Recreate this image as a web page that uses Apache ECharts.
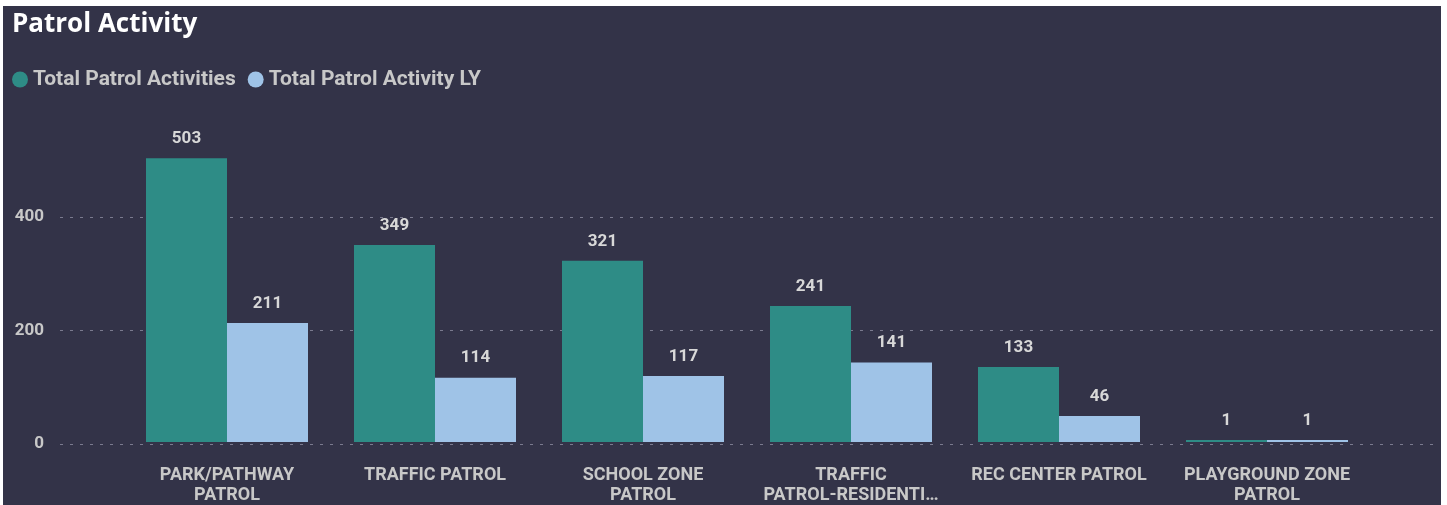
<!DOCTYPE html>
<html>
<head>
<meta charset="utf-8">
<script src="https://cdn.jsdelivr.net/npm/echarts@6/dist/echarts.min.js"></script>
<style>
  html, body { margin: 0; padding: 0; background: #ffffff; }
  #chart { position: absolute; left: 3px; top: 6px; width: 1438px; height: 499px; background: #333348; }
</style>
</head>
<body>
<div id="chart"></div>
<script>
const categories = ['PARK/PATHWAY PATROL', 'TRAFFIC PATROL', 'SCHOOL ZONE PATROL', 'TRAFFIC PATROL-RESIDENTIAL', 'REC CENTER PATROL', 'PLAYGROUND ZONE PATROL'];
const categoryLabels = ['PARK/PATHWAY\nPATROL', 'TRAFFIC PATROL', 'SCHOOL ZONE\nPATROL', 'TRAFFIC\nPATROL-RESIDENTI…', 'REC CENTER PATROL', 'PLAYGROUND ZONE\nPATROL'];
const totalPatrolActivities = [503, 349, 321, 241, 133, 1];
const totalPatrolActivityLY = [211, 114, 117, 141, 46, 1];
const seriesNames = ['Total Patrol Activities', 'Total Patrol Activity LY'];
const yTicks = [0, 200, 400];

const chart = echarts.init(document.getElementById('chart'), null, { renderer: 'canvas' });
const labelFont = 'Roboto, "DejaVu Sans", sans-serif';
const option = {
  backgroundColor: '#333348',
  animation: false,
  title: {
    text: 'Patrol Activity',
    left: 4, top: 1,
    textStyle: { color: '#ffffff', fontSize: 26, fontWeight: 'bold', fontFamily: '"Open Sans", "Noto Sans", sans-serif' }
  },
  legend: {
    left: 9, top: 63, padding: 0, itemGap: 12,
    icon: 'circle', itemWidth: 16, itemHeight: 16,
    data: seriesNames,
    textStyle: { color: '#c8c8c8', fontSize: 21, fontFamily: labelFont, fontWeight: 'bold' }
  },
  grid: [
    { left: 57, right: 8, top: 120, bottom: 61 },
    { left: 120, right: 70, top: 120, bottom: 61 }
  ],
  xAxis: [
    { type: 'category', gridIndex: 0, show: false, data: [''] },
    {
      type: 'category', gridIndex: 1, data: categories,
      axisLine: { show: false }, axisTick: { show: false },
      axisLabel: {
        color: '#c8c8c8', fontSize: 18, fontWeight: 'bold', fontFamily: labelFont,
        margin: 23, lineHeight: 20, interval: 0,
        formatter: (v, i) => categoryLabels[i]
      }
    }
  ],
  yAxis: [
    {
      type: 'value', gridIndex: 0, min: 0, max: 560, interval: 200,
      axisLine: { show: false }, axisTick: { show: false },
      axisLabel: { color: '#c8c8c8', fontSize: 17, fontWeight: 'bold', fontFamily: labelFont, margin: 16, showMaxLabel: false,
        formatter: v => yTicks.includes(v) ? String(v) : '' },
      splitLine: { show: true, showMaxLine: false, lineStyle: { color: '#7a7a8e', width: 1, type: [3, 7] } }
    },
    {
      type: 'value', gridIndex: 1, min: 0, max: 560, interval: 200, show: false,
      splitLine: { show: false }
    }
  ],
  series: [
    {
      name: seriesNames[0], type: 'bar', xAxisIndex: 1, yAxisIndex: 1,
      data: totalPatrolActivities, barWidth: 81, barGap: '0%', barMinHeight: 2,
      itemStyle: { color: '#2e8c86' },
      label: { show: true, position: 'top', distance: 11, color: '#d8d8d8', fontSize: 17, fontWeight: 'bold', fontFamily: labelFont }
    },
    {
      name: seriesNames[1], type: 'bar', xAxisIndex: 1, yAxisIndex: 1,
      data: totalPatrolActivityLY, barWidth: 81, barGap: '0%', barMinHeight: 2,
      itemStyle: { color: '#9fc3e7' },
      label: { show: true, position: 'top', distance: 11, color: '#d8d8d8', fontSize: 17, fontWeight: 'bold', fontFamily: labelFont }
    }
  ]
};
chart.setOption(option);
</script>
</body>
</html>
